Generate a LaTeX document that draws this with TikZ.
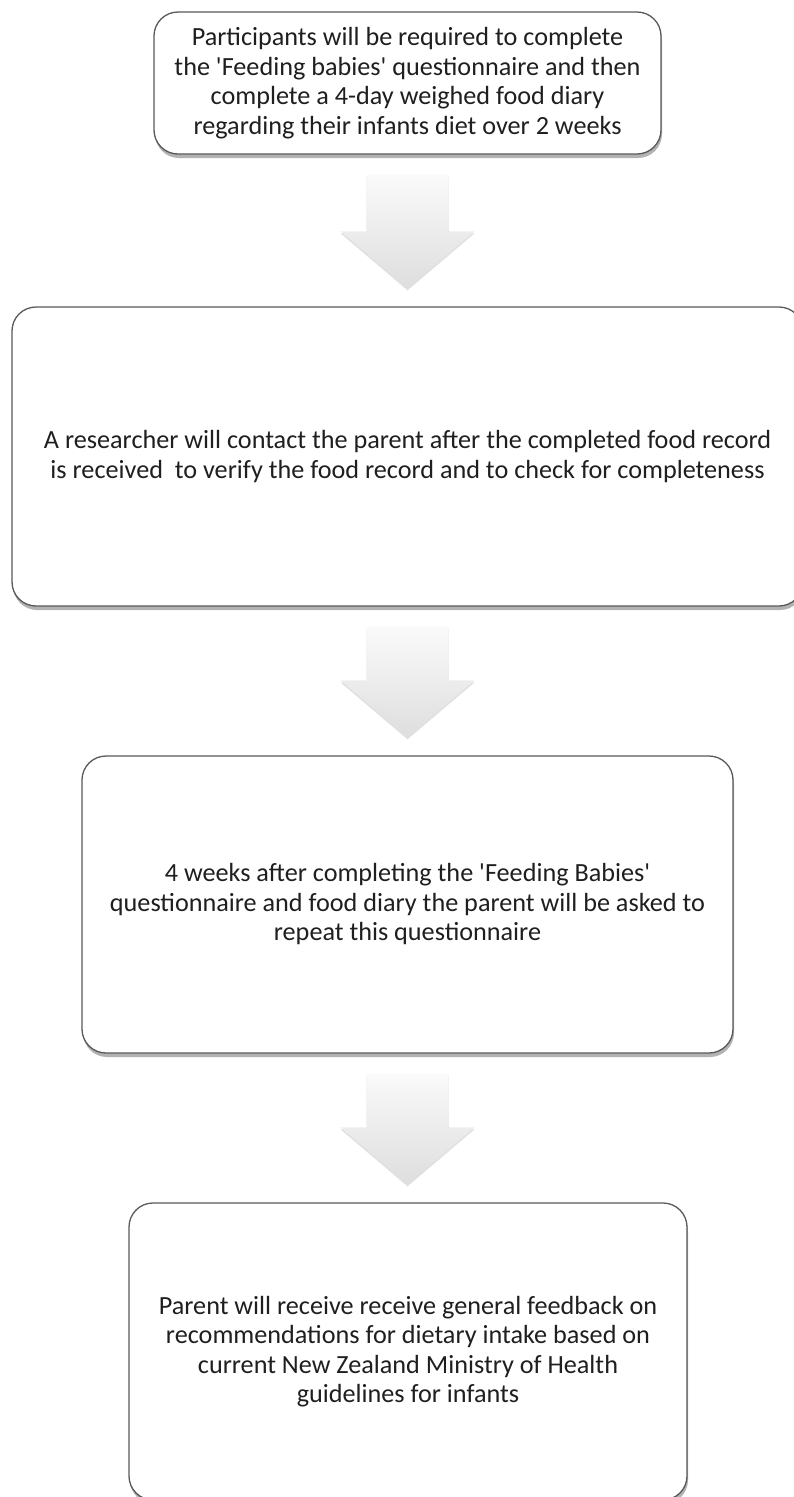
\documentclass[tikz,border=0pt]{standalone}
\usepackage{fontspec}
\setmainfont{Carlito}[Ligatures=TeXOff]
\usetikzlibrary{calc,shadows}
\tikzset{
  stepbox/.style={draw=gray!70!black, line width=1.3pt, rounded corners=24pt,
    fill=white, align=center, inner sep=0pt, text=black!88,
    font=\fontsize{26.2}{29.5}\selectfont,
    drop shadow={shadow xshift=1pt, shadow yshift=-4pt, opacity=0.3, fill=black}},
  flowarr/.style={top color=gray!4, bottom color=gray!26, draw=none,
    drop shadow={shadow xshift=0pt, shadow yshift=-2pt, opacity=0.12, fill=black}}
}
\newcommand{\flowarrow}[2]{%
  \path[flowarr] let \p1=(#1.south), \p2=(#2.north) in
    (\x1-41pt,\y1-20pt) -- (\x1+41pt,\y1-20pt) -- (\x1+41pt,\y2+75pt)
    -- (\x1+67pt,\y2+75pt) -- (\x1,\y2+18pt) -- (\x1-67pt,\y2+75pt)
    -- (\x1-41pt,\y2+75pt) -- cycle;}
\begin{document}
\begin{tikzpicture}
\useasboundingbox (0,0) rectangle (793pt,-1497pt);
\node[stepbox, minimum width=507pt, minimum height=142pt] (S1) at (407.5pt,-83pt)
  {Participants will be required to complete\\the 'Feeding babies' questionnaire and then\\complete a 4-day weighed food diary\\regarding their infants diet over 2 weeks};
\node[stepbox, minimum width=791pt, minimum height=299pt] (S2) at (407.5pt,-456.5pt)
  {A researcher will contact the parent after the completed food record\\is received~ to verify the food record and to check for completeness};
\node[stepbox, minimum width=651pt, minimum height=297pt] (S3) at (407.5pt,-904.5pt)
  {4 weeks after completing the 'Feeding Babies'\\questionnaire and food diary the parent will be asked to\\repeat this questionnaire};
\node[stepbox, minimum width=558pt, minimum height=297pt] (S4) at (408pt,-1351.5pt)
  {Parent will receive receive general feedback on\\recommendations for dietary intake based on\\current New Zealand Ministry of Health\\guidelines for infants};
\flowarrow{S1}{S2}
\flowarrow{S2}{S3}
\flowarrow{S3}{S4}
\end{tikzpicture}
\end{document}
